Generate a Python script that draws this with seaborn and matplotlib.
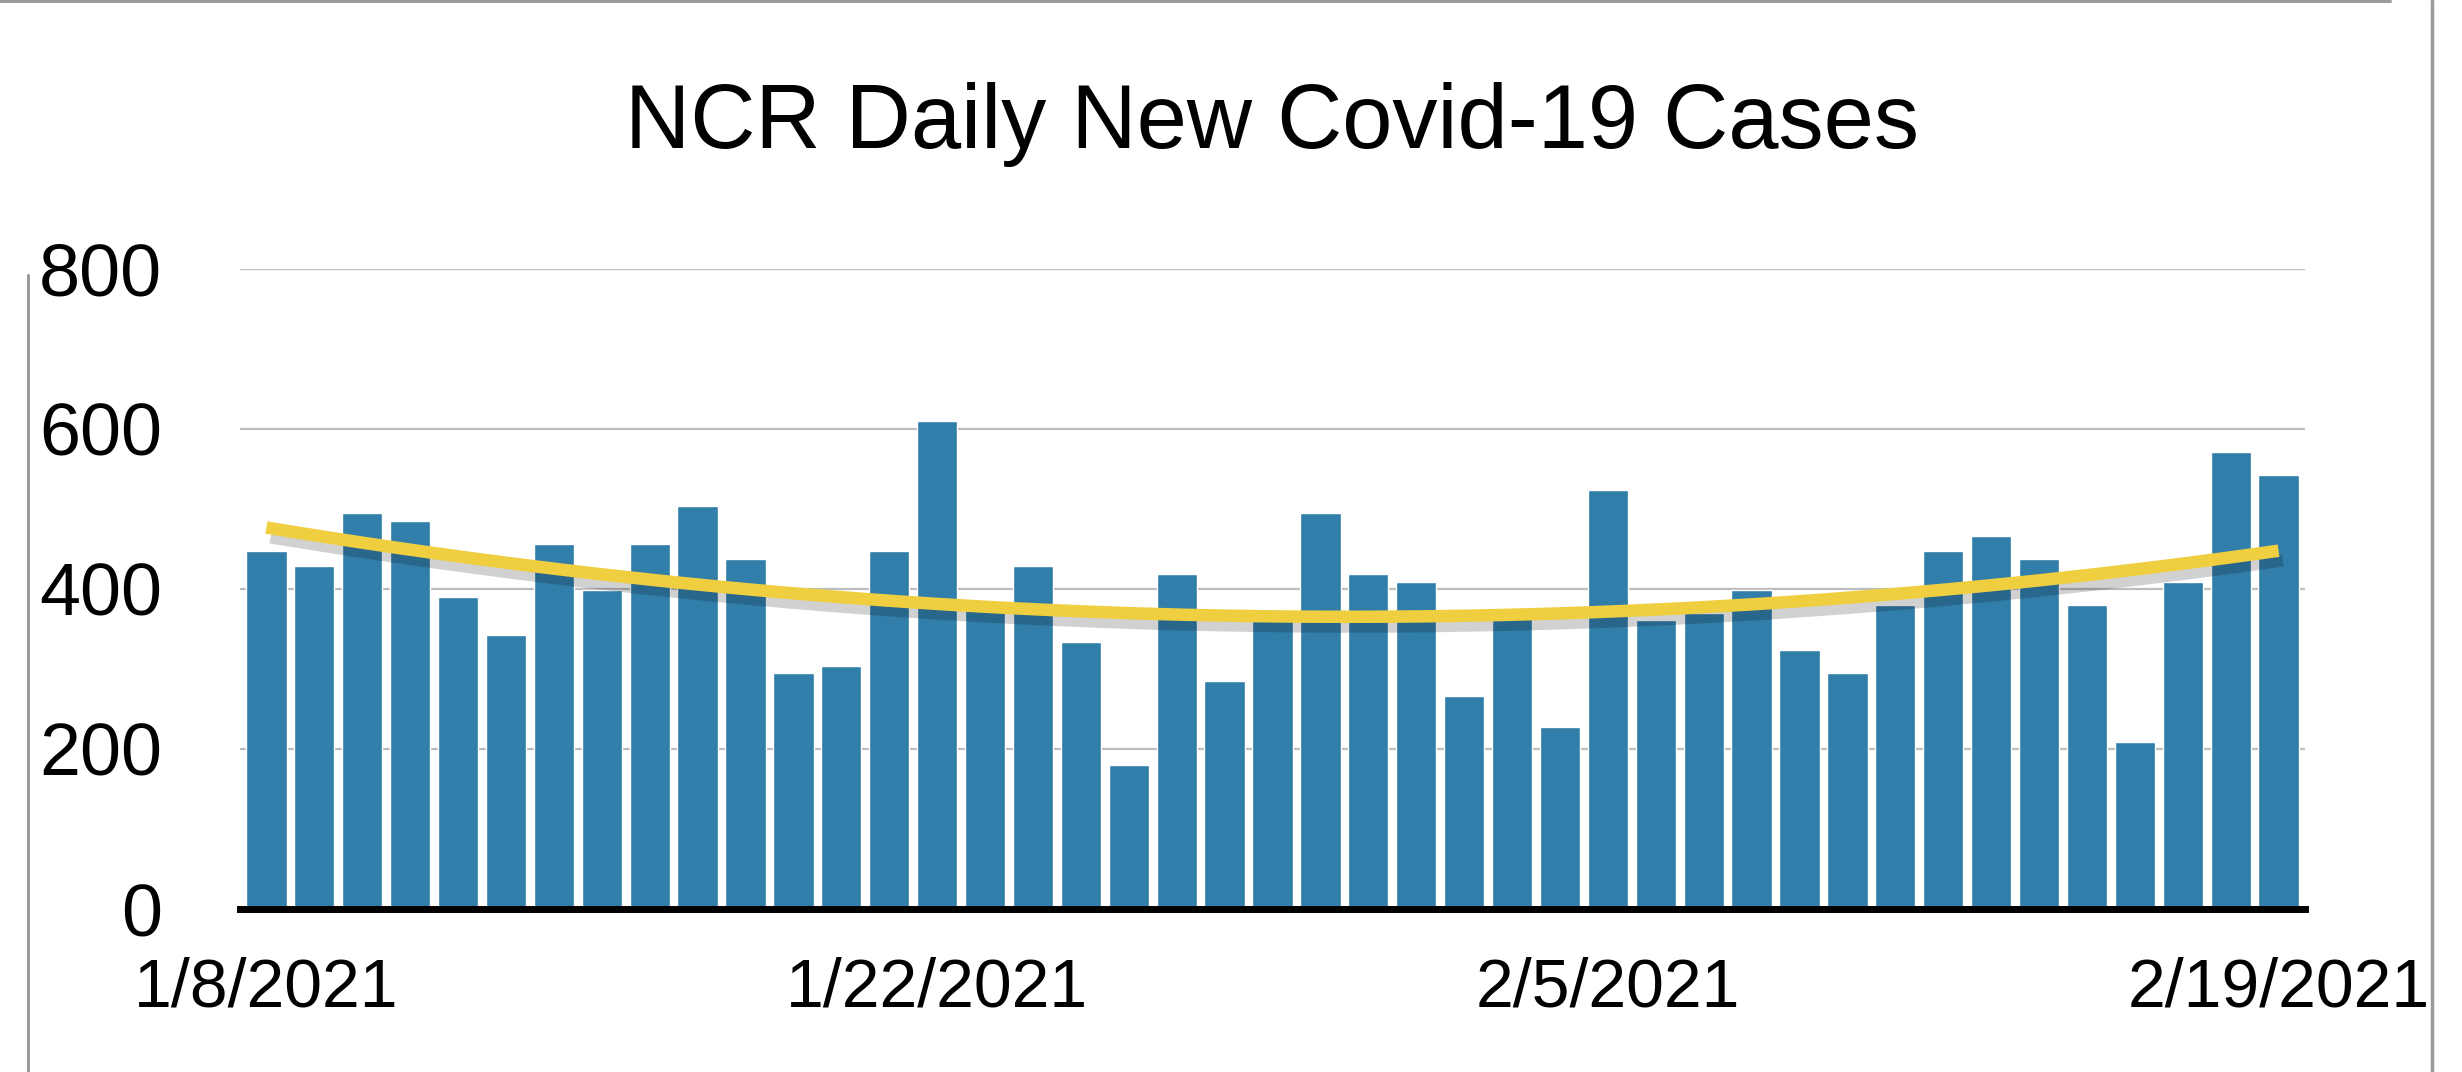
import numpy as np
import pandas as pd
import matplotlib
matplotlib.use("Agg")
import matplotlib.pyplot as plt
import matplotlib.patheffects as pe
from matplotlib.lines import Line2D
import seaborn as sns

# ---- data ----
dates = pd.date_range("2021-01-08", "2021-02-19", freq="D")
date_labels = [f"{d.month}/{d.day}/{d.year}" for d in dates]
cases = [447, 428, 495, 485, 390, 342, 456, 399, 456, 504,
         437, 295, 304, 447, 610, 375, 428, 333, 180, 419,
         285, 362, 495, 419, 409, 266, 363, 228, 523, 361,
         370, 399, 323, 295, 380, 447, 466, 437, 380, 209,
         409, 571, 542]
title = "NCR Daily New Covid-19 Cases"
yticks = [0, 200, 400, 600, 800]
xtick_idx = [0, 14, 28, 42]

bar_color = "#317EAA"
trend_color = "#EFCE40"

sns.set_theme(style="white")
plt.rcParams["font.family"] = ["Liberation Sans", "DejaVu Sans"]
plt.rcParams["text.color"] = "black"
plt.rcParams["xtick.color"] = "black"
plt.rcParams["ytick.color"] = "black"

fig = plt.figure(figsize=(24.62, 10.72), dpi=100)
ax = fig.add_axes([0.0975, 0.152, 0.8387, 0.5975])

df = pd.DataFrame({"date": date_labels, "cases": cases})
sns.barplot(data=df, x="date", y="cases", color=bar_color, saturation=1,
            width=0.84, ax=ax, zorder=2)

pos = np.arange(len(cases))
sns.regplot(x=pos, y=np.array(cases, dtype=float), order=2, ci=None,
            scatter=False, ax=ax,
            line_kws=dict(color=trend_color, lw=9, solid_capstyle="butt", zorder=4,
                          path_effects=[pe.SimpleLineShadow(offset=(3, -7), shadow_color="black",
                                                            alpha=0.18),
                                        pe.Normal()]))

ax.set_xlim(-0.55, len(cases) - 0.45)
ax.set_ylim(0, 800)
ax.set_yticks(yticks)
ax.set_yticklabels([str(v) for v in yticks], fontsize=53)
ax.set_xticks(xtick_idx)
ax.set_xticklabels([date_labels[i] for i in xtick_idx], fontsize=49)
ax.tick_params(axis="y", length=0, pad=56, colors="black")
ax.tick_params(axis="x", length=0, pad=34, colors="black")
ax.set_xlabel("")
ax.set_ylabel("")

ax.yaxis.grid(True, color="#bdbdbd", lw=1.6, zorder=0)
ax.set_axisbelow(True)
for s in ["left", "right", "top"]:
    ax.spines[s].set_visible(False)
ax.spines["bottom"].set_color("black")
ax.spines["bottom"].set_linewidth(5)
ax.spines["bottom"].set_zorder(5)

fig.text(1272 / 2462, 1 - 124 / 1072, title, ha="center", va="center",
         fontsize=65, color="black")

# screenshot frame lines
fig.add_artist(Line2D([28 / 2462, 28 / 2462], [0, 1 - 275 / 1072], color="#9a9a9a", lw=2.2))
fig.add_artist(Line2D([2432 / 2462, 2432 / 2462], [0, 1], color="#9a9a9a", lw=2.5))
fig.add_artist(Line2D([0, 2390 / 2462], [0.999, 0.999], color="#9a9a9a", lw=2.2))

fig.savefig("out.png", dpi=100, facecolor="white")
